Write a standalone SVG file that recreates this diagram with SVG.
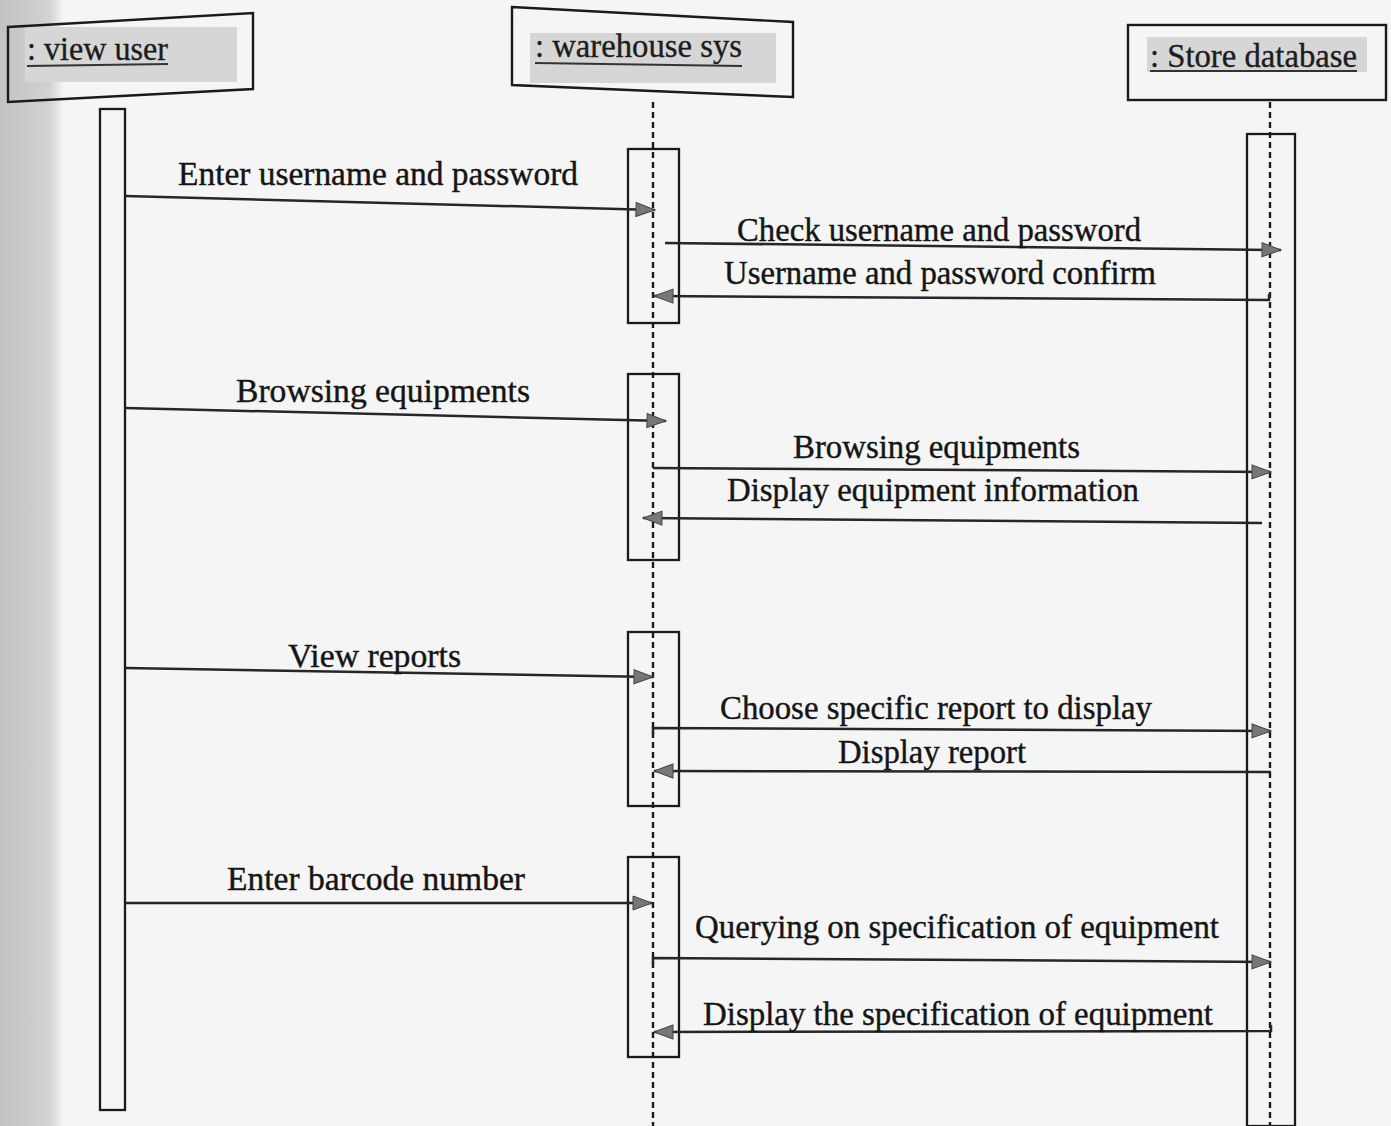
<svg xmlns="http://www.w3.org/2000/svg" width="1391" height="1126" viewBox="0 0 1391 1126">
<defs>
<linearGradient id="shade" x1="0" y1="0" x2="1" y2="0">
<stop offset="0" stop-color="#c2c2c2"/>
<stop offset="0.8" stop-color="#d2d2d2"/>
<stop offset="1" stop-color="#f0f0f0"/>
</linearGradient>
<marker id="arr" markerWidth="22" markerHeight="16" refX="20" refY="8" orient="auto" markerUnits="userSpaceOnUse">
<path d="M1,1 L20,8 L1,15 Z" fill="#777" stroke="#444" stroke-width="1"/>
</marker>
<style>
.box{fill:none;stroke:#1a1a1a;stroke-width:2.4}
.act{fill:none;stroke:#1a1a1a;stroke-width:2.3}
.life{stroke:#1a1a1a;stroke-width:2.4;stroke-dasharray:6,4;fill:none}
.hl{fill:#d6d6d6}
.hd{font-family:"Liberation Serif","Times New Roman",serif;font-size:33px;fill:#1c1c1c;stroke:#1c1c1c;stroke-width:0.35}
.ul{stroke:#333;stroke-width:1.8}
.msg{font-family:"Liberation Serif","Times New Roman",serif;font-size:33px;fill:#151515;stroke:#151515;stroke-width:0.4}
.ln{stroke:#262626;stroke-width:2.5;fill:none}
</style>
</defs>
<rect x="0" y="0" width="1391" height="1126" fill="#f5f5f5"/>
<rect x="0" y="0" width="62" height="1126" fill="url(#shade)"/>

<g id="view-user">
<rect class="hl" x="25" y="27" width="212" height="55"/>
<polygon class="box" points="8,27 253,13 253,89 8,102"/>
<text class="hd" x="27" y="60" textLength="141" lengthAdjust="spacingAndGlyphs">: view user</text>
<line class="ul" x1="27" y1="66" x2="168" y2="64"/>
<rect class="act" x="100" y="109" width="25" height="1001"/>
</g>

<g id="warehouse-sys">
<rect class="hl" x="530" y="33" width="246" height="50"/>
<polygon class="box" points="512,7 793,22 793,97 512,85"/>
<text class="hd" x="535" y="57" textLength="207" lengthAdjust="spacingAndGlyphs">: warehouse sys</text>
<line class="ul" x1="535" y1="63" x2="742" y2="66"/>
<line class="life" x1="653" y1="102" x2="653" y2="1126"/>
<rect class="act" x="628" y="149" width="51" height="174"/>
<rect class="act" x="628" y="374" width="51" height="186"/>
<rect class="act" x="628" y="632" width="51" height="174"/>
<rect class="act" x="628" y="857" width="51" height="200"/>
</g>

<g id="store-database">
<rect class="hl" x="1147" y="37" width="220" height="35"/>
<rect class="box" x="1128" y="25" width="258" height="75"/>
<text class="hd" x="1150" y="67" textLength="207" lengthAdjust="spacingAndGlyphs">: Store database</text>
<line class="ul" x1="1150" y1="71" x2="1357" y2="71"/>
<line class="life" x1="1270" y1="102" x2="1270" y2="1126"/>
<rect class="act" x="1247" y="134" width="48" height="992"/>
</g>

<g id="connectors">
<line class="ln" x1="125" y1="196" x2="655" y2="210" marker-end="url(#arr)"/>
<line class="ln" x1="665" y1="243" x2="1281" y2="250" marker-end="url(#arr)"/>
<polyline class="ln" points="1269,294 1269,300 654,296" marker-end="url(#arr)"/>
<line class="ln" x1="125" y1="408" x2="666" y2="421" marker-end="url(#arr)"/>
<line class="ln" x1="653" y1="468" x2="1271" y2="472" marker-end="url(#arr)"/>
<line class="ln" x1="1262" y1="523" x2="643" y2="518" marker-end="url(#arr)"/>
<line class="ln" x1="125" y1="668" x2="653" y2="677" marker-end="url(#arr)"/>
<polyline class="ln" points="653,734 653,728 1271,731" marker-end="url(#arr)"/>
<line class="ln" x1="1271" y1="772" x2="654" y2="771" marker-end="url(#arr)"/>
<line class="ln" x1="125" y1="903" x2="652" y2="903" marker-end="url(#arr)"/>
<polyline class="ln" points="653,964 653,958 1271,962" marker-end="url(#arr)"/>
<polyline class="ln" points="1271,1025 1271,1031 654,1032" marker-end="url(#arr)"/>
</g>

<g id="labels">
<text class="msg" x="178" y="185" textLength="400" lengthAdjust="spacingAndGlyphs">Enter username and password</text>
<text class="msg" x="737" y="241" textLength="404" lengthAdjust="spacingAndGlyphs">Check username and password</text>
<text class="msg" x="724" y="284" textLength="432" lengthAdjust="spacingAndGlyphs">Username and password confirm</text>
<text class="msg" x="236" y="402" textLength="294" lengthAdjust="spacingAndGlyphs">Browsing equipments</text>
<text class="msg" x="793" y="458" textLength="287" lengthAdjust="spacingAndGlyphs">Browsing equipments</text>
<text class="msg" x="727" y="501" textLength="412" lengthAdjust="spacingAndGlyphs">Display equipment information</text>
<text class="msg" x="288" y="667" textLength="173" lengthAdjust="spacingAndGlyphs">View reports</text>
<text class="msg" x="720" y="719" textLength="432" lengthAdjust="spacingAndGlyphs">Choose specific report to display</text>
<text class="msg" x="838" y="763" textLength="188" lengthAdjust="spacingAndGlyphs">Display report</text>
<text class="msg" x="227" y="890" textLength="298" lengthAdjust="spacingAndGlyphs">Enter barcode number</text>
<text class="msg" x="695" y="938" textLength="524" lengthAdjust="spacingAndGlyphs">Querying on specification of equipment</text>
<text class="msg" x="703" y="1025" textLength="510" lengthAdjust="spacingAndGlyphs">Display the specification of equipment</text>
</g>
</svg>
